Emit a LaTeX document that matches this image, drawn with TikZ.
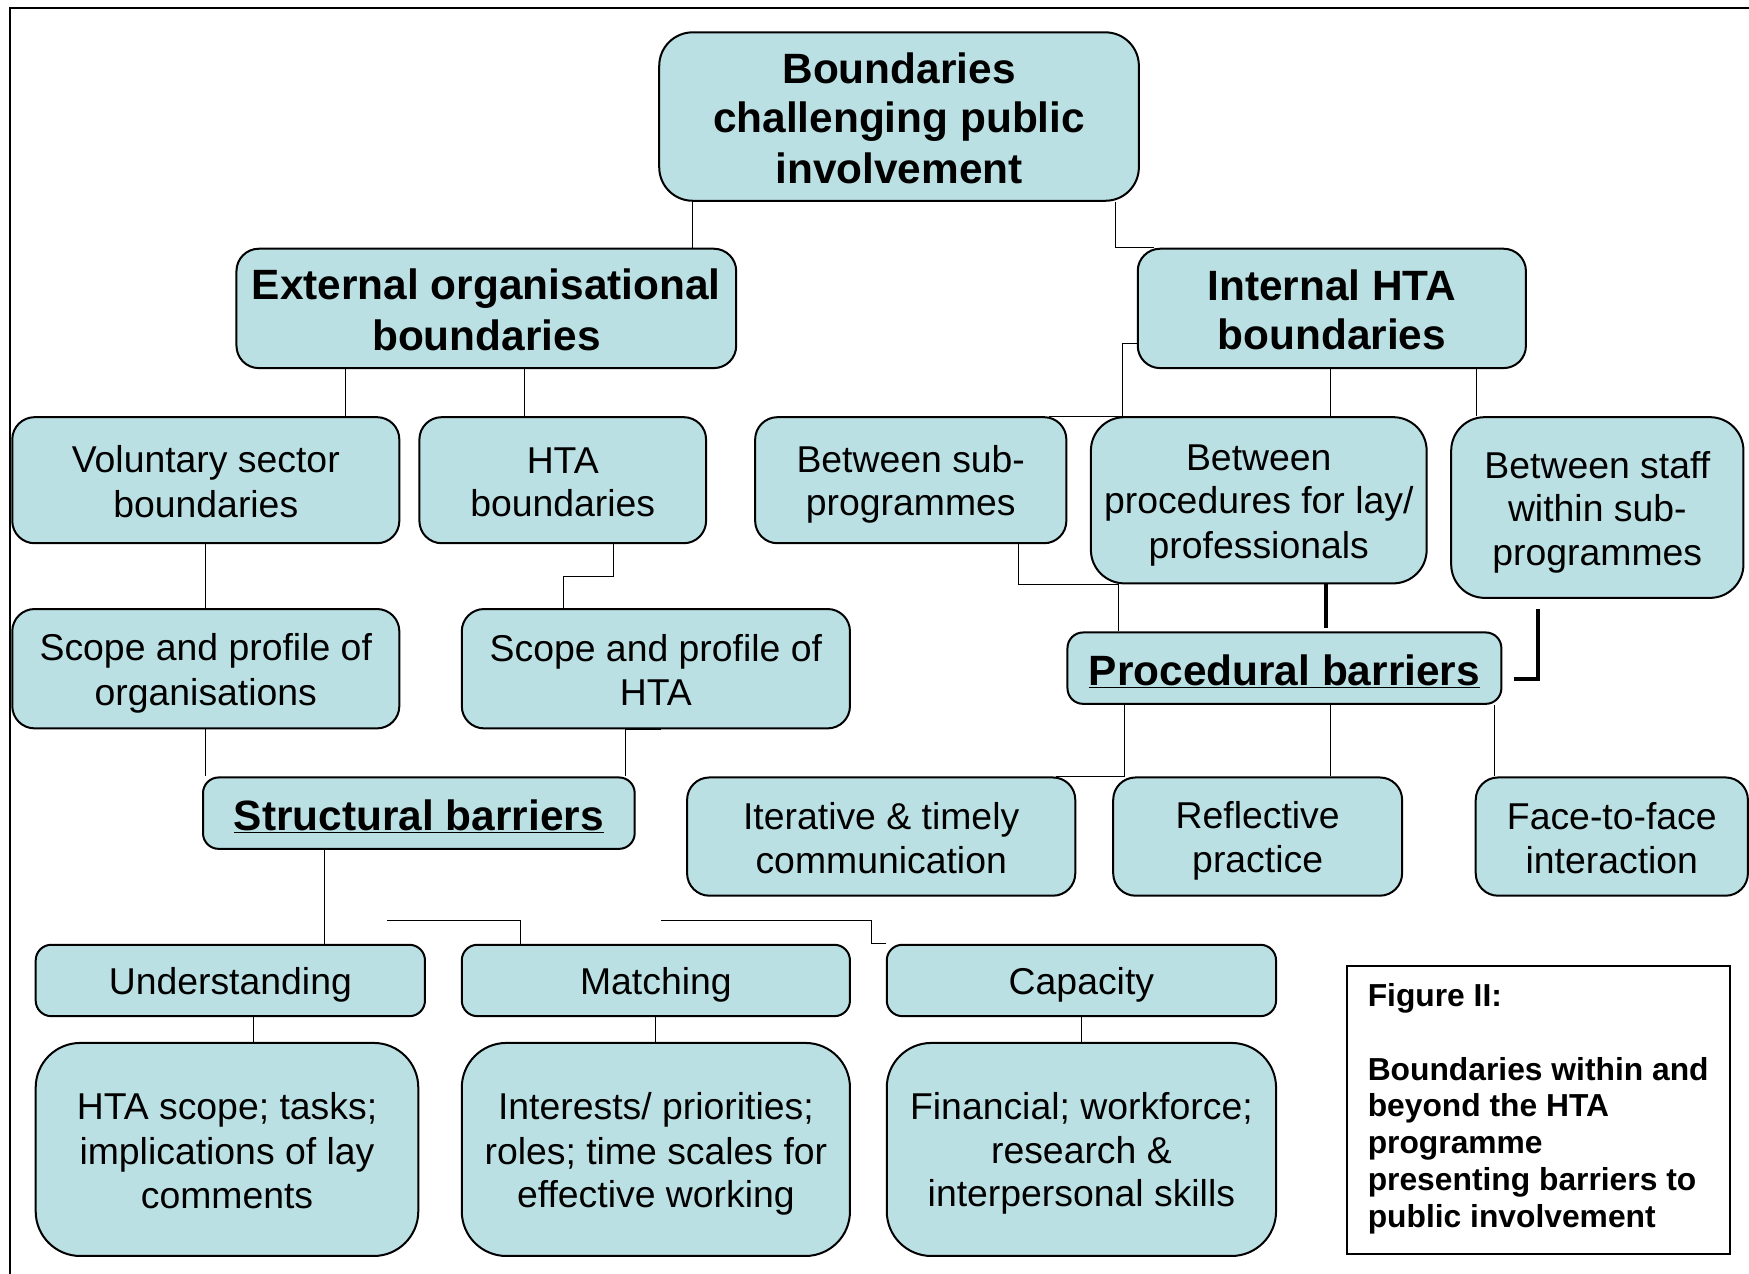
\documentclass[tikz,border=0pt]{standalone}
\usepackage{fontspec}
\setmainfont{Liberation Sans}
\usetikzlibrary{calc}
\definecolor{boxfill}{RGB}{187,224,227}
\pgfdeclarelayer{bg}
\pgfsetlayers{bg,main}
\newcommand\lstrut{\rule[-0.16em]{0pt}{1.117em}}
\begin{document}
\begin{tikzpicture}[x=1pt,y=-1pt,
  box/.style={draw=black, fill=boxfill, line width=1.8pt, rounded corners=20pt, align=center, inner sep=0pt, font=\fontsize{33.5}{39}\selectfont},
  bbox/.style={box, font=\fontsize{38}{44}\selectfont\bfseries},
  conn/.style={line width=0.9pt},
  heavyconn/.style={line width=3.5pt},
  captext/.style={inner sep=0pt, align=left, font=\fontsize{28.5}{33}\selectfont\bfseries}
]
\useasboundingbox (0,0) rectangle (1568,1142);
% frame
\draw[line width=2pt] (9,1142) -- (9,7) -- (1568,7);

% nodes
\node[bbox, rounded corners=30pt, minimum width=430pt, minimum height=151pt] (root) at (806,104.5) {\lstrut Boundaries\\\lstrut challenging public\\\lstrut involvement};
\node[bbox, minimum width=448pt, minimum height=107pt] (ext) at (436,276.5) {\lstrut External organisational\\\lstrut boundaries};
\node[bbox, minimum width=348pt, minimum height=107pt] (int) at (1194,276.5) {\lstrut Internal HTA\\\lstrut boundaries};

\node[box, minimum width=347pt, minimum height=113pt] (vol) at (184.5,430.5) {\lstrut Voluntary sector\\\lstrut boundaries};
\node[box, minimum width=257pt, minimum height=113pt] (htab) at (504.5,430.5) {\lstrut HTA\\\lstrut boundaries};
\node[box, minimum width=279pt, minimum height=113pt] (subp) at (816.5,430.5) {\lstrut Between sub-\\\lstrut programmes};
\node[box, rounded corners=30pt, minimum width=301pt, minimum height=149pt] (proc) at (1128.5,448.5) {\lstrut Between\\\lstrut procedures for lay/\\\lstrut professionals};
\node[box, rounded corners=30pt, minimum width=262pt, minimum height=162pt] (staff) at (1432,455) {\lstrut Between staff\\\lstrut within sub-\\\lstrut programmes};

\node[box, minimum width=347pt, minimum height=107pt] (scorg) at (184.5,599.5) {\lstrut Scope and profile of\\\lstrut organisations};
\node[box, minimum width=348pt, minimum height=107pt] (schta) at (588,599.5) {\lstrut Scope and profile of\\\lstrut HTA};
\node[bbox, rounded corners=14pt, minimum width=389pt, minimum height=64pt] (procb) at (1151.5,599) {\lstrut\underline{Procedural barriers}};
\node[bbox, rounded corners=14pt, minimum width=387pt, minimum height=64pt] (strb) at (375.5,729) {\lstrut\underline{Structural barriers}};

\node[box, minimum width=348pt, minimum height=106pt] (iter) at (790,750) {\lstrut Iterative \& timely\\\lstrut communication};
\node[box, minimum width=259pt, minimum height=106pt] (refl) at (1127.5,750) {\lstrut Reflective\\\lstrut practice};
\node[box, minimum width=244pt, minimum height=106pt] (face) at (1445,750) {\lstrut Face-to-face\\\lstrut interaction};

\node[box, rounded corners=14pt, minimum width=349pt, minimum height=64pt] (und) at (206.5,879) {\lstrut Understanding};
\node[box, rounded corners=14pt, minimum width=348pt, minimum height=64pt] (mat) at (588,879) {\lstrut Matching};
\node[box, rounded corners=14pt, minimum width=349pt, minimum height=64pt] (cap) at (969.5,879) {\lstrut Capacity};

\node[box, rounded corners=40pt, minimum width=343pt, minimum height=191pt] (hta) at (203.5,1030.5) {\lstrut HTA scope; tasks;\\\lstrut implications of lay\\\lstrut comments};
\node[box, rounded corners=40pt, minimum width=348pt, minimum height=191pt] (intr) at (588,1030.5) {\lstrut Interests/ priorities;\\\lstrut roles; time scales for\\\lstrut effective working};
\node[box, rounded corners=40pt, minimum width=349pt, minimum height=191pt] (fin) at (969.5,1030.5) {\lstrut Financial; workforce;\\\lstrut research \&\\\lstrut interpersonal skills};

% caption
\node[draw=black, line width=1.8pt, fill=white, minimum width=343pt, minimum height=258pt, inner sep=0pt] (capbox) at (1379.5,995) {};
\node[captext, anchor=west] (figt) at (1226,895) {Figure II:};
\node[captext, anchor=west] (figc) at (1226,1027) {Boundaries within and\\beyond the HTA\\programme\\presenting barriers to\\public involvement};

% free-end coordinates
\coordinate (fl1) at (347,825);
\coordinate (fl2) at (593,825);
\coordinate (fl2b) at (781,846);
\coordinate (thA) at (1189,563);
\coordinate (thB) at (1379,546);
\coordinate (thC) at (1379,609);
\coordinate (thD) at (1357,609);

\begin{pgfonlayer}{bg}
\draw[conn] (621,0 |- root.south) -- (621,0 |- ext.north);
\draw[conn] (1000,0 |- root.south) |- (1035,0 |- int.north);
\draw[conn] (int.west |- 0,308) -| (1006,0 |- subp.north) -- (940,0 |- subp.north);
\draw[conn] (1193,0 |- int.south) -- (1193,0 |- proc.north);
\draw[conn] (1324,0 |- int.south) -- (1324,0 |- staff.north);
\draw[conn] (913,0 |- subp.south) |- (1003,0 |- proc.south) -- (1003,0 |- procb.north);
\draw[heavyconn] (1189,0 |- proc.south) -- (thA);
\draw[heavyconn] (thB) -- (thC) -- (thD);
\draw[conn] (1008,0 |- procb.south) |- (947,0 |- iter.north);
\draw[conn] (1193,0 |- procb.south) -- (1193,0 |- refl.north);
\draw[conn] (1340,0 |- procb.south) -- (1340,0 |- face.north);
\draw[conn] (310,0 |- ext.south) -- (310,0 |- vol.north);
\draw[conn] (470,0 |- ext.south) -- (470,0 |- htab.north);
\draw[conn] (184,0 |- vol.south) -- (184,0 |- scorg.north);
\draw[conn] (550,0 |- htab.south) -- (550,517) -| (505,0 |- schta.north);
\draw[conn] (184,0 |- scorg.south) -- (184,0 |- strb.north);
\draw[conn] (593,0 |- schta.south) -- (561,0 |- schta.south) -- (561,0 |- strb.north);
\draw[conn] (291,0 |- strb.south) -- (291,0 |- und.north);
\draw[conn] (fl1) -| (467,0 |- mat.north);
\draw[conn] (fl2) -| (fl2b) -- (cap.north west |- fl2b);
\draw[conn] (227,0 |- und.south) -- (227,0 |- hta.north);
\draw[conn] (588,0 |- mat.south) -- (588,0 |- intr.north);
\draw[conn] (970,0 |- cap.south) -- (970,0 |- fin.north);
\end{pgfonlayer}
\end{tikzpicture}
\end{document}
